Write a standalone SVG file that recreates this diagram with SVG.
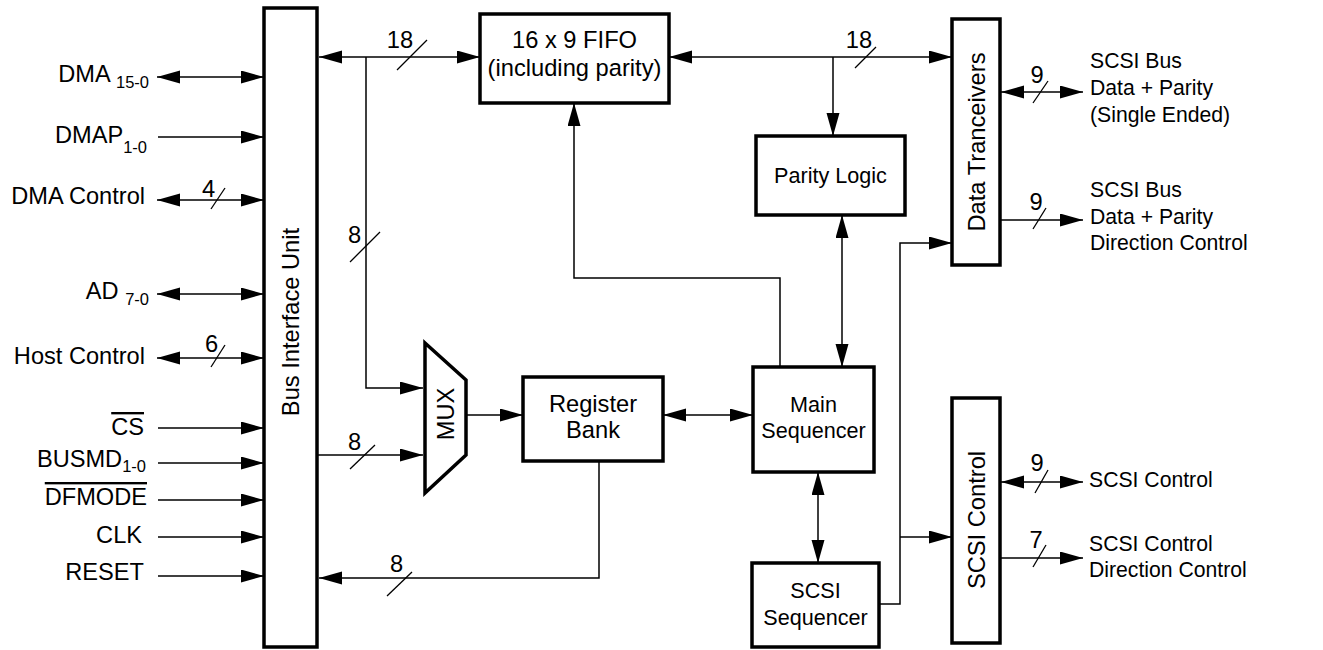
<svg xmlns="http://www.w3.org/2000/svg" width="1323" height="650" viewBox="0 0 1323 650">
<style>
text{font-family:"Liberation Sans",Arial,sans-serif;fill:#000}
.box{fill:#fff;stroke:#000;stroke-width:3.5}
.w{fill:none;stroke:#000;stroke-width:1.5}
.s{stroke:#000;stroke-width:1.3}
.lbl{font-size:23.6px;text-anchor:end}
.r{font-size:21.2px}
.n{font-size:23.7px;text-anchor:middle}
.bw{font-size:21.6px;text-anchor:middle}
.sub{font-size:16.5px}
.ol{text-decoration:overline}
</style>
<defs>
<marker id="a" markerUnits="userSpaceOnUse" markerWidth="24" markerHeight="14" refX="23" refY="6.5" orient="auto-start-reverse">
<path d="M0,0 L23,6.5 L0,13 z" fill="#000"/>
</marker>
</defs>
<rect width="1323" height="650" fill="#fff"/>

<g id="connectors">
<line class="w" x1="157" y1="77" x2="264" y2="77" marker-start="url(#a)" marker-end="url(#a)"/>
<line class="w" x1="158" y1="137" x2="264" y2="137" marker-end="url(#a)"/>
<line class="w" x1="157" y1="200" x2="264" y2="200" marker-start="url(#a)" marker-end="url(#a)"/>
<line class="s" x1="211" y1="209" x2="225" y2="188"/>
<line class="w" x1="157" y1="294" x2="264" y2="294" marker-start="url(#a)" marker-end="url(#a)"/>
<line class="w" x1="157" y1="358" x2="264" y2="358" marker-start="url(#a)" marker-end="url(#a)"/>
<line class="s" x1="211" y1="367" x2="225" y2="345"/>
<line class="w" x1="158" y1="428" x2="264" y2="428" marker-end="url(#a)"/>
<line class="w" x1="158" y1="463" x2="264" y2="463" marker-end="url(#a)"/>
<line class="w" x1="158" y1="500" x2="264" y2="500" marker-end="url(#a)"/>
<line class="w" x1="158" y1="537" x2="264" y2="537" marker-end="url(#a)"/>
<line class="w" x1="158" y1="576" x2="264" y2="576" marker-end="url(#a)"/>

<line class="w" x1="319" y1="57" x2="480" y2="57" marker-start="url(#a)" marker-end="url(#a)"/>
<line class="s" x1="397" y1="70" x2="427" y2="40"/>
<polyline class="w" points="366,57 366,388 423,388" marker-end="url(#a)"/>
<line class="s" x1="350" y1="262" x2="380" y2="232"/>
<line class="w" x1="317" y1="455" x2="423" y2="455" marker-end="url(#a)"/>
<line class="s" x1="350" y1="469" x2="375" y2="445"/>
<line class="w" x1="466" y1="415" x2="523" y2="415" marker-end="url(#a)"/>
<line class="w" x1="663" y1="415" x2="753" y2="415" marker-start="url(#a)" marker-end="url(#a)"/>
<polyline class="w" points="599,461 599,578 319,578" marker-end="url(#a)"/>
<line class="s" x1="387" y1="596" x2="412" y2="572"/>
<polyline class="w" points="780,367 780,278 574,278 574,103" marker-end="url(#a)"/>
<line class="w" x1="669" y1="57" x2="952" y2="57" marker-start="url(#a)" marker-end="url(#a)"/>
<line class="s" x1="855" y1="68" x2="876" y2="47"/>
<line class="w" x1="833" y1="57" x2="833" y2="136" marker-end="url(#a)"/>
<line class="w" x1="842" y1="215" x2="842" y2="367" marker-start="url(#a)" marker-end="url(#a)"/>
<line class="w" x1="818" y1="472" x2="818" y2="563" marker-start="url(#a)" marker-end="url(#a)"/>
<polyline class="w" points="879,604 900,604 900,243 952,243" marker-end="url(#a)"/>
<line class="w" x1="900" y1="537" x2="952" y2="537" marker-end="url(#a)"/>

<line class="w" x1="1001" y1="92" x2="1083" y2="92" marker-start="url(#a)" marker-end="url(#a)"/>
<line class="s" x1="1033" y1="103" x2="1048" y2="81"/>
<line class="w" x1="1000" y1="220" x2="1083" y2="220" marker-end="url(#a)"/>
<line class="s" x1="1033" y1="229" x2="1046" y2="208"/>
<line class="w" x1="1001" y1="482" x2="1083" y2="482" marker-start="url(#a)" marker-end="url(#a)"/>
<line class="s" x1="1035" y1="493" x2="1048" y2="470"/>
<line class="w" x1="1000" y1="558" x2="1083" y2="558" marker-end="url(#a)"/>
<line class="s" x1="1033" y1="567" x2="1046" y2="545"/>

<text class="n" x="208.5" y="197">4</text>
<text class="n" x="211.5" y="352">6</text>
<text class="n" x="400" y="48">18</text>
<text class="n" x="354.5" y="243">8</text>
<text class="n" x="354.5" y="450">8</text>
<text class="n" x="396.5" y="572">8</text>
<text class="n" x="859" y="48">18</text>
<text class="n" x="1037" y="83">9</text>
<text class="n" x="1036" y="210">9</text>
<text class="n" x="1037" y="471">9</text>
<text class="n" x="1036" y="548">7</text>
</g>

<g id="inputs">
<text class="lbl" x="149" y="82">DMA <tspan class="sub" dy="6">15-0</tspan></text>
<text class="lbl" x="147" y="143">DMAP<tspan class="sub" dy="10">1-0</tspan></text>
<text class="lbl" x="145" y="204">DMA Control</text>
<text class="lbl" x="149" y="299">AD <tspan class="sub" dy="6">7-0</tspan></text>
<text class="lbl" x="145" y="364">Host Control</text>
<text class="lbl ol" x="144" y="435">CS</text>
<text class="lbl" x="146" y="467">BUSMD<tspan class="sub" dy="5">1-0</tspan></text>
<text class="lbl ol" x="147" y="505">DFMODE</text>
<text class="lbl" x="142" y="543">CLK</text>
<text class="lbl" x="144" y="580">RESET</text>
</g>

<g id="outputs">
<text class="r" x="1090" y="68">SCSI Bus</text>
<text class="r" x="1090" y="95">Data + Parity</text>
<text class="r" x="1090" y="122">(Single Ended)</text>
<text class="r" x="1090" y="197">SCSI Bus</text>
<text class="r" x="1090" y="224">Data + Parity</text>
<text class="r" x="1090" y="250">Direction Control</text>
<text class="r" x="1089" y="487">SCSI Control</text>
<text class="r" x="1089" y="551">SCSI Control</text>
<text class="r" x="1089" y="577">Direction Control</text>
</g>

<g id="bus-interface-unit">
<rect class="box" x="264" y="8" width="53" height="639"/>
<text class="n" transform="translate(290.5,322) rotate(-90)" y="8.5">Bus Interface Unit</text>
</g>

<g id="fifo">
<rect class="box" x="480" y="14" width="189" height="89"/>
<text class="n" x="574.5" y="48">16 x 9 FIFO</text>
<text class="n" x="574.5" y="76">(including parity)</text>
</g>

<g id="mux">
<polygon class="box" points="425,343 466,380 466,455 425,493"/>
<text class="n" transform="translate(445,414) rotate(-90)" y="8.5">MUX</text>
</g>

<g id="register-bank">
<rect class="box" x="523" y="377" width="140" height="84"/>
<text class="n" x="593" y="412">Register</text>
<text class="n" x="593" y="438">Bank</text>
</g>

<g id="parity-logic">
<rect class="box" x="756" y="136" width="149" height="79"/>
<text class="bw" x="830.5" y="183">Parity Logic</text>
</g>

<g id="main-sequencer">
<rect class="box" x="753" y="367" width="121" height="105"/>
<text class="bw" x="813.5" y="412">Main</text>
<text class="bw" x="813.5" y="438">Sequencer</text>
</g>

<g id="scsi-sequencer">
<rect class="box" x="752" y="563" width="127" height="84"/>
<text class="bw" x="815.5" y="598">SCSI</text>
<text class="bw" x="815.5" y="625">Sequencer</text>
</g>

<g id="data-tranceivers">
<rect class="box" x="952" y="19" width="48" height="246"/>
<text class="n" transform="translate(976,142) rotate(-90)" y="8.5">Data Tranceivers</text>
</g>

<g id="scsi-control">
<rect class="box" x="952" y="398" width="48" height="245"/>
<text class="n" transform="translate(976,520) rotate(-90)" y="8.5">SCSI Control</text>
</g>
</svg>
